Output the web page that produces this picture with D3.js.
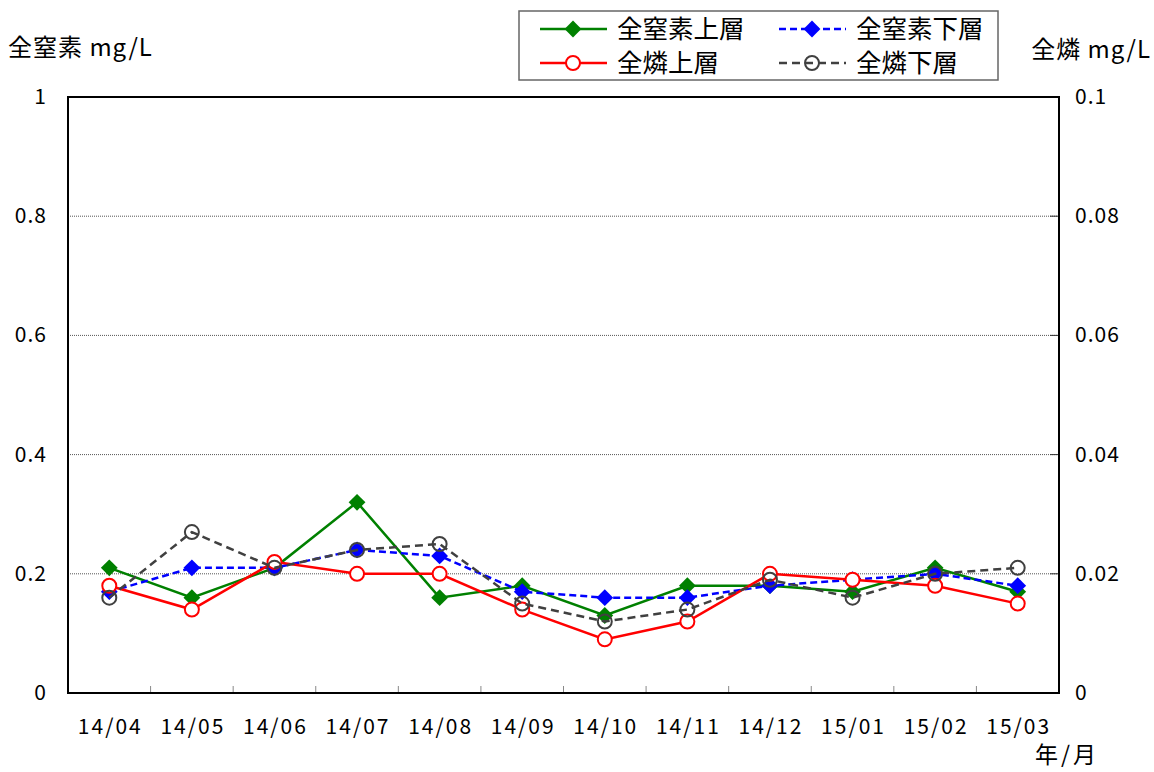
<!DOCTYPE html>
<html>
<head>
<meta charset="utf-8">
<script src="https://cdn.jsdelivr.net/npm/d3@7"></script>
<style>
  html, body { margin: 0; padding: 0; background: #fff; }
  svg { display: block; font-family: "Noto Sans CJK JP", "Noto Sans", sans-serif; }
</style>
</head>
<body>
<svg id="chart" width="1154" height="772"></svg>
<script>
// Monthly water quality: total nitrogen (left axis) and total phosphorus (right axis)
const months = ["14/04", "14/05", "14/06", "14/07", "14/08", "14/09", "14/10", "14/11", "14/12", "15/01", "15/02", "15/03"];
const nitrogenUpper = [0.21, 0.16, 0.21, 0.32, 0.16, 0.18, 0.13, 0.18, 0.18, 0.17, 0.21, 0.17];
const nitrogenLower = [0.17, 0.21, 0.21, 0.24, 0.23, 0.17, 0.16, 0.16, 0.18, 0.19, 0.20, 0.18];
const phosphorusUpper = [0.018, 0.014, 0.022, 0.020, 0.020, 0.014, 0.009, 0.012, 0.020, 0.019, 0.018, 0.015];
const phosphorusLower = [0.016, 0.027, 0.021, 0.024, 0.025, 0.015, 0.012, 0.014, 0.019, 0.016, 0.020, 0.021];
const leftTicks = [0, 0.2, 0.4, 0.6, 0.8, 1];
const rightTicks = [0, 0.02, 0.04, 0.06, 0.08, 0.1];

const svg = d3.select("#chart");
const plot = { left: 68, right: 1059, top: 97, bottom: 693 };

const x = d3.scaleBand().domain(months).range([plot.left, plot.right]);
const yN = d3.scaleLinear().domain([0, 1]).range([plot.bottom, plot.top]);
const yP = d3.scaleLinear().domain([0, 0.1]).range([plot.bottom, plot.top]);

// horizontal grid
svg.append("g")
  .selectAll("line")
  .data(leftTicks.filter(t => t > 0 && t < 1))
  .join("line")
  .attr("x1", plot.left).attr("x2", plot.right)
  .attr("y1", d => yN(d)).attr("y2", d => yN(d))
  .attr("stroke", "#555").attr("stroke-width", 1).attr("stroke-dasharray", "1,1");

// category tick marks on the bottom edge (inside)
svg.append("g")
  .selectAll("line")
  .data(months.slice(1))
  .join("line")
  .attr("x1", d => x(d)).attr("x2", d => x(d))
  .attr("y1", plot.bottom).attr("y2", plot.bottom - 7)
  .attr("stroke", "#888").attr("stroke-width", 1);

// right-side inner ticks
svg.append("g")
  .selectAll("line")
  .data(rightTicks.filter(t => t > 0 && t < 0.1))
  .join("line")
  .attr("x1", plot.right - 9).attr("x2", plot.right)
  .attr("y1", d => yP(d)).attr("y2", d => yP(d))
  .attr("stroke", "#333").attr("stroke-width", 1);

// plot frame
svg.append("rect")
  .attr("x", plot.left).attr("y", plot.top)
  .attr("width", plot.right - plot.left).attr("height", plot.bottom - plot.top)
  .attr("fill", "none").attr("stroke", "#000").attr("stroke-width", 2);

// tick labels
const tickFont = 21;
svg.append("g")
  .selectAll("text")
  .data(leftTicks)
  .join("text")
  .attr("x", 47).attr("y", d => yN(d) + 7)
  .attr("text-anchor", "end").attr("font-size", tickFont).attr("letter-spacing", 1)
  .text(d => d3.format("~g")(d));

svg.append("g")
  .selectAll("text")
  .data(rightTicks)
  .join("text")
  .attr("x", 1075).attr("y", d => yP(d) + 7)
  .attr("text-anchor", "start").attr("font-size", tickFont).attr("letter-spacing", 1)
  .text(d => d3.format("~g")(d));

svg.append("g")
  .selectAll("text")
  .data(months)
  .join("text")
  .attr("x", d => x(d) + x.bandwidth() / 2 + 1).attr("y", 734)
  .attr("text-anchor", "middle").attr("font-size", tickFont).attr("letter-spacing", 2)
  .text(d => d);

// axis titles
svg.append("text").attr("x", 8).attr("y", 56).attr("font-size", 24).attr("letter-spacing", 1).text("全窒素 mg/L");
svg.append("text").attr("x", 1151).attr("y", 58).attr("text-anchor", "end").attr("font-size", 24).attr("letter-spacing", 1).text("全燐 mg/L");
svg.append("text").attr("x", 1099).attr("y", 763).attr("text-anchor", "end").attr("font-size", 23).attr("letter-spacing", 3).text("年/月");

const series = [
  { name: "全窒素上層", values: nitrogenUpper, y: yN, color: "#008000", dash: null, marker: "diamond" },
  { name: "全窒素下層", values: nitrogenLower, y: yN, color: "#0000ff", dash: "7,4", marker: "diamond" },
  { name: "全燐上層", values: phosphorusUpper, y: yP, color: "#ff0000", dash: null, marker: "circle" },
  { name: "全燐下層", values: phosphorusLower, y: yP, color: "#404040", dash: "8,5", marker: "ring" }
];

const diamond = d3.symbol().type(d3.symbolDiamond2).size(180);

function drawMarker(g, s, cx, cy) {
  if (s.marker === "diamond") {
    g.append("path").attr("d", diamond()).attr("transform", `translate(${cx},${cy})`)
      .attr("fill", s.color);
  } else if (s.marker === "circle") {
    g.append("circle").attr("cx", cx).attr("cy", cy).attr("r", 7)
      .attr("fill", "#fff").attr("stroke", s.color).attr("stroke-width", 2);
  } else {
    g.append("circle").attr("cx", cx).attr("cy", cy).attr("r", 7)
      .attr("fill", "none").attr("stroke", s.color).attr("stroke-width", 2);
  }
}

series.forEach(s => {
  const g = svg.append("g");
  const line = d3.line()
    .x((d, i) => x(months[i]) + x.bandwidth() / 2)
    .y(d => s.y(d));
  g.append("path").datum(s.values).attr("d", line)
    .attr("fill", "none").attr("stroke", s.color).attr("stroke-width", 2.5)
    .attr("stroke-dasharray", s.dash);
  s.values.forEach((v, i) => drawMarker(g, s, x(months[i]) + x.bandwidth() / 2, s.y(v)));
});

// legend
const legend = svg.append("g");
legend.append("rect").attr("x", 519).attr("y", 11).attr("width", 479).attr("height", 69)
  .attr("fill", "#fff").attr("stroke", "#666").attr("stroke-width", 1.5);
const legendPos = [
  { lx: 540, ly: 29 }, { lx: 779, ly: 29 },
  { lx: 540, ly: 63 }, { lx: 779, ly: 63 }
];
series.forEach((s, i) => {
  const p = legendPos[i];
  const g = legend.append("g");
  g.append("line").attr("x1", p.lx).attr("x2", p.lx + 67).attr("y1", p.ly).attr("y2", p.ly)
    .attr("stroke", s.color).attr("stroke-width", 2.5).attr("stroke-dasharray", s.dash);
  drawMarker(g, s, p.lx + 33, p.ly);
  g.append("text").attr("x", p.lx + 77).attr("y", p.ly + 9).attr("font-size", 25.5).text(s.name);
});
</script>
</body>
</html>
